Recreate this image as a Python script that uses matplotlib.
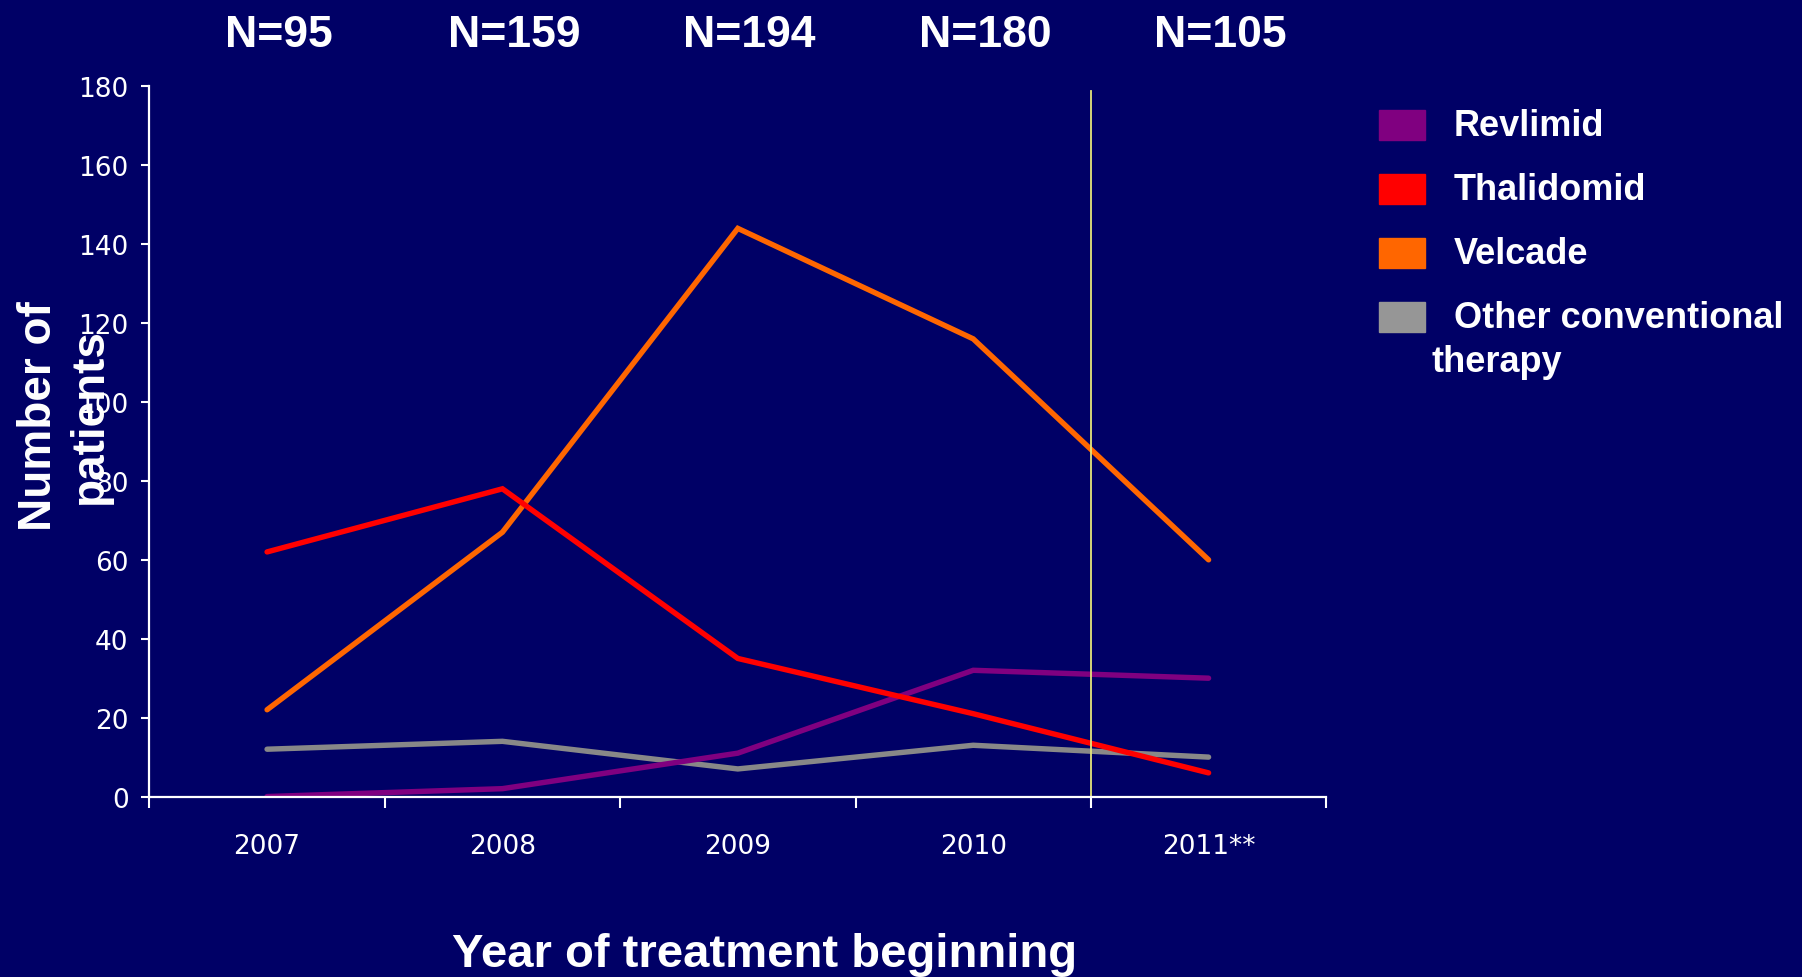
import numpy as np
import matplotlib.pyplot as plt
import matplotlib.transforms as mtransforms
from matplotlib.patches import Rectangle

# dane
years = ['2007', '2008', '2009', '2010', '2011**']
n_labels = ['N=95', 'N=159', 'N=194', 'N=180', 'N=105']
revlimid = [0, 2, 11, 32, 30]
thalidomid = [62, 78, 35, 21, 6]
velcade = [22, 67, 144, 116, 60]
other = [12, 14, 7, 13, 10]

names = ['Revlimid', 'Thalidomid', 'Velcade', 'Other conventional\ntherapy']
series = [revlimid, thalidomid, velcade, other]
colors = ['#800080', '#ff0000', '#ff6600', '#888888']
legend_colors = ['#800080', '#ff0000', '#ff6600', '#969696']

bg = '#000066'
fig = plt.figure(figsize=(18.02, 9.78), dpi=100, facecolor=bg)
ax = fig.add_axes([0.0829, 0.1845, 0.6531, 0.7262], facecolor=bg)

x = np.arange(len(years))
# kolejnosc rysowania: szara, fioletowa, pomaranczowa, czerwona
for i in [3, 0, 2, 1]:
    ax.plot(x, series[i], color=colors[i], lw=3.9, solid_capstyle='round',
            solid_joinstyle='miter')

ax.axvline(3.5, ymin=0, ymax=0.993, color='#e6e67a', lw=1.3)

ax.set_xlim(-0.5, len(years) - 0.5)
ax.set_ylim(0, 180)
ax.set_yticks(np.arange(0, 181, 20))

ax.set_xticks(np.arange(-0.5, len(years), 1.0))
ax.set_xticklabels([])
ax.set_xticks(x, minor=True)
ax.set_xticklabels(years, minor=True)

for s in ['top', 'right']:
    ax.spines[s].set_visible(False)
for s in ['left', 'bottom']:
    ax.spines[s].set_color('white')
    ax.spines[s].set_linewidth(1.6)

ax.tick_params(axis='y', colors='white', length=6, width=1.5, pad=9,
               labelsize=19)
ax.tick_params(axis='x', which='major', colors='white', length=8, width=1.5)
ax.tick_params(axis='x', which='minor', colors='white', length=0, pad=26,
               labelsize=19)

# N= nad wykresem
trans = mtransforms.blended_transform_factory(ax.transData, fig.transFigure)
for i, t in enumerate(n_labels):
    ax.text(i + 0.05, 0.964, t, transform=trans,
            ha='center', va='center', color='white', fontsize=32,
            fontweight='bold', family='Liberation Sans')

fig.text(0.036, 0.575, 'Number of\npatients', rotation=90, ha='center',
         va='center', color='white', fontsize=33, fontweight='bold',
         family='Liberation Sans', linespacing=1.2, multialignment='center')

fig.text(0.4245, 0.011, 'Year of treatment beginning', ha='center',
         va='baseline', color='white', fontsize=34, fontweight='bold',
         family='Liberation Sans')

# legenda
rows_y = [126, 190, 254, 318]
for name, c, ry in zip(names, legend_colors, rows_y):
    fig.patches.append(Rectangle((1379 / 1802, 1 - (ry + 15) / 978),
                                 46 / 1802, 30 / 978, color=c,
                                 transform=fig.transFigure, figure=fig))
    lines = name.split('\n')
    fig.text(1454 / 1802, 1 - ry / 978, lines[0], ha='left', va='center',
             color='white', fontsize=26, fontweight='bold',
             family='Liberation Sans')
    if len(lines) > 1:
        fig.text(1431 / 1802, 1 - (ry + 45) / 978, lines[1], ha='left',
                 va='center', color='white', fontsize=26, fontweight='bold',
                 family='Liberation Sans')

plt.savefig('out.png', dpi=100, facecolor=bg)
